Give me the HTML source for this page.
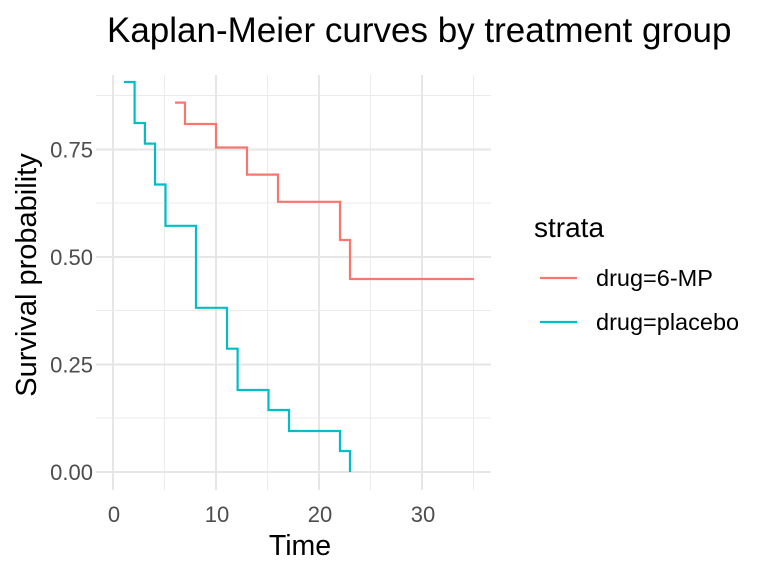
<!DOCTYPE html>
<html><head><meta charset="utf-8"><style>
html,body{margin:0;padding:0;background:#fff;}
svg{display:block;font-family:"Liberation Sans",sans-serif;}
</style></head><body>
<svg width="768" height="576" viewBox="0 0 768 576">
<rect width="768" height="576" fill="#fff"/>
<g stroke="#ebebeb" stroke-width="1">
<line x1="164.5" y1="75" x2="164.5" y2="490"/>
<line x1="267.5" y1="75" x2="267.5" y2="490"/>
<line x1="370.5" y1="75" x2="370.5" y2="490"/>
<line x1="473.5" y1="75" x2="473.5" y2="490"/>
<line x1="96" y1="418" x2="491" y2="418"/>
<line x1="96" y1="310.5" x2="491" y2="310.5"/>
<line x1="96" y1="203" x2="491" y2="203"/>
<line x1="96" y1="95.5" x2="491" y2="95.5"/>
</g>
<g stroke="#e6e6e6" stroke-width="2">
<line x1="113" y1="75" x2="113" y2="490"/>
<line x1="216" y1="75" x2="216" y2="490"/>
<line x1="319" y1="75" x2="319" y2="490"/>
<line x1="422" y1="75" x2="422" y2="490"/>
<line x1="96" y1="472" x2="491" y2="472"/>
<line x1="96" y1="364.5" x2="491" y2="364.5"/>
<line x1="96" y1="257" x2="491" y2="257"/>
<line x1="96" y1="149.5" x2="491" y2="149.5"/>
</g>
<path fill="none" stroke="#F8766D" stroke-width="2.2" d="M175,102.6 H185 V124 H216 V147.5 H247 V174.6 H278 V201.8 H340 V240 H350 V279 H474"/>
<path fill="none" stroke="#00BFC4" stroke-width="2.2" d="M124,82 H134.6 V123 H144.9 V143.6 H155 V184.5 H165.5 V225.8 H196 V307.8 H227 V348.7 H237.6 V390 H268.5 V410 H289 V431 H340 V451 H350 V472"/>
<g fill="#4d4d4d" font-size="22" text-anchor="end">
<text x="93" y="480">0.00</text>
<text x="93" y="372.5">0.25</text>
<text x="93" y="265">0.50</text>
<text x="93" y="157.5">0.75</text>
</g>
<g fill="#4d4d4d" font-size="22" text-anchor="middle">
<text x="114" y="522">0</text>
<text x="217" y="522">10</text>
<text x="320" y="522">20</text>
<text x="423" y="522">30</text>
</g>
<text x="300" y="555" font-size="28.5" text-anchor="middle" fill="#000">Time</text>
<text transform="translate(36,275) rotate(-90)" font-size="29" text-anchor="middle" fill="#000">Survival probability</text>
<text x="107" y="42" font-size="35" fill="#000">Kaplan-Meier curves by treatment group</text>
<text x="534" y="237" font-size="28" fill="#000">strata</text>
<line x1="540" y1="278" x2="577" y2="278" stroke="#F8766D" stroke-width="2.2"/>
<line x1="540" y1="322" x2="577" y2="322" stroke="#00BFC4" stroke-width="2.2"/>
<text x="596" y="286" font-size="23.5" fill="#000">drug=6-MP</text>
<text x="596" y="330" font-size="23.5" fill="#000">drug=placebo</text>
</svg>
</body></html>
